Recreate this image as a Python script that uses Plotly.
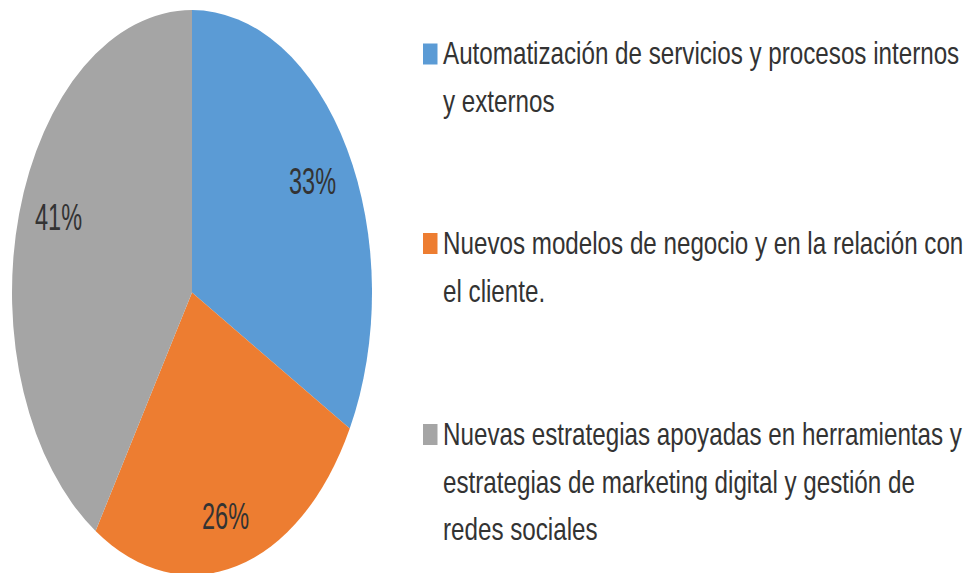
import math
import plotly.graph_objects as go

# ---- data ----
categories = [
    "Automatización de servicios y procesos internos y externos",
    "Nuevos modelos de negocio y en la relación con el cliente.",
    "Nuevas estrategias apoyadas en herramientas y estrategias de marketing digital y gestión de redes sociales",
]
values = [33, 26, 41]
percent_labels = ["33%", "26%", "41%"]
legend_lines = [
    ["Automatización de servicios y procesos internos", "y externos"],
    ["Nuevos modelos de negocio y en la relación con", "el cliente."],
    ["Nuevas estrategias apoyadas en herramientas y",
     "estrategias de marketing digital y gestión de", "redes sociales"],
]
colors = ["#5B9BD5", "#ED7D31", "#A5A5A5"]

# ---- layout constants (pixels) ----
W, H = 969, 573
CX, CY = 192.0, 292.5      # pie centre
R = 180.0                  # horizontal radius
SY = 565.0 / 360.0         # vertical stretch of the pie (ellipse)
TEXT_SY = 1.3              # vertical stretch of the legend text
TXT = "#333333"
FONT = "Liberation Sans, Arial, sans-serif"
# label placement (radius fraction, angle nudge in degrees) per slice
label_place = [(0.775, 0.0), (0.813, 1.2), (0.79, 3.7)]


def px(x):
    return x / W


def py(y):
    return 1 - y / H


fig = go.Figure()
fig.add_trace(go.Pie(
    values=values,
    labels=categories,
    marker=dict(colors=colors, line=dict(width=0)),
    sort=False,
    direction="clockwise",
    rotation=0,
    textinfo="none",
    hoverinfo="skip",
    showlegend=False,
    domain=dict(x=[px(CX - R), px(CX + R)], y=[py(CY + R), py(CY - R)]),
))

annotations = []
# percentage labels, placed along each slice's mid angle
total = sum(values)
cum = 0
for (v, lab), (rf, nudge) in zip(zip(values, percent_labels), label_place):
    mid = (cum + v / 2) / total * 2 * math.pi + math.radians(nudge)
    cum += v
    r = rf * R
    x = CX + r * math.sin(mid)
    y = CY - SY * r * math.cos(mid)
    annotations.append(dict(
        x=px(x), y=py(y), xref="paper", yref="paper", text=lab,
        showarrow=False, xanchor="center", yanchor="middle",
        font=dict(family=FONT, size=23.5, color=TXT),
    ))

# legend
item_first_line = [54, 243.5, 434.5]
line_gap = 47.5
shapes = []
for i, lines in enumerate(legend_lines):
    y0 = item_first_line[i]
    shapes.append(dict(
        type="rect", xref="paper", yref="paper",
        x0=px(423), x1=px(437.5), y0=py(y0 - 10.5), y1=py(y0 + 10.5),
        fillcolor=colors[i], line=dict(width=0),
    ))
    for j, t in enumerate(lines):
        annotations.append(dict(
            x=px(441), y=py(y0 + j * line_gap), xref="paper", yref="paper",
            text=t, showarrow=False, xanchor="left", yanchor="middle",
            font=dict(family=FONT, size=24.2, color=TXT),
        ))

fig.update_layout(
    width=W, height=H,
    margin=dict(l=0, r=0, t=0, b=0),
    paper_bgcolor="white", plot_bgcolor="white",
    annotations=annotations, shapes=shapes,
    showlegend=False,
)

post = """
document.body.style.margin = '0';
document.body.style.padding = '0';
var gd = document.getElementById('{plot_id}');
function stretch() {
  var pl = gd.querySelector('.pielayer');
  if (pl) {
    pl.style.transformBox = 'fill-box';
    pl.style.transformOrigin = 'center';
    pl.style.transform = 'scaleY(%PIE%)';
  }
  gd.querySelectorAll('.annotation-text').forEach(function (t) {
    var s = (t.textContent.indexOf('%') >= 0) ? %PIE% : %TXT%;
    t.style.transformBox = 'fill-box';
    t.style.transformOrigin = 'center';
    t.style.transform = 'scaleY(' + s + ')';
  });
}
stretch();
gd.on('plotly_afterplot', stretch);
""".replace("%PIE%", "%.4f" % SY).replace("%TXT%", "%.4f" % TEXT_SY)

fig.write_html("out.html", post_script=post,
               config={"displayModeBar": False, "staticPlot": True})
